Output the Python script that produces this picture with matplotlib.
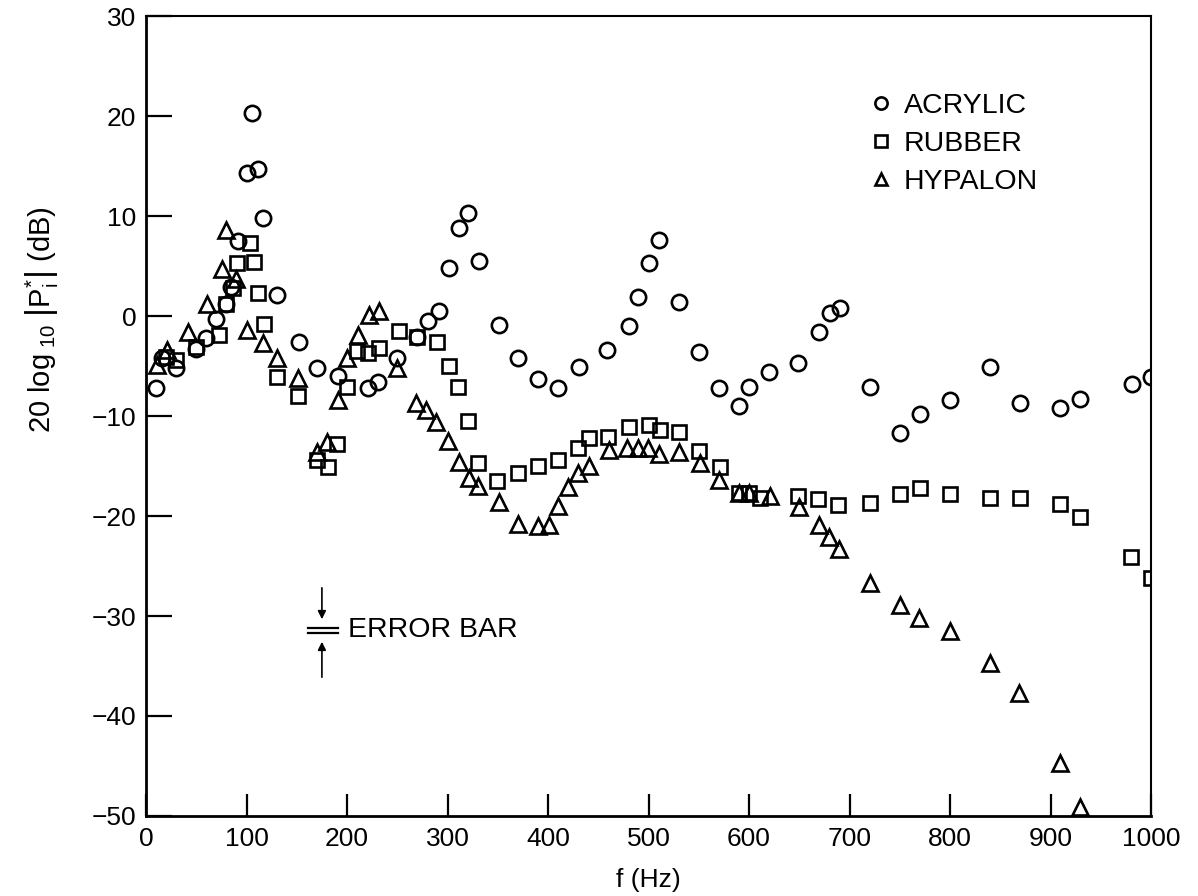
import matplotlib
matplotlib.use("Agg")
import matplotlib.pyplot as plt

plt.rcParams['font.family'] = ['Liberation Sans', 'DejaVu Sans']
plt.rcParams['mathtext.fontset'] = 'custom'
plt.rcParams['mathtext.rm'] = 'Liberation Sans'
plt.rcParams['mathtext.it'] = 'Liberation Sans:italic'

# acrylic (circles)
acrylic_f = [10, 16, 30, 50, 60, 70, 80, 85, 92, 100, 105, 111, 116, 130, 152, 170,
             191, 221, 231, 250, 270, 281, 292, 301, 311, 320, 331, 351, 370, 390,
             410, 431, 459, 481, 490, 500, 510, 530, 550, 570, 590, 600, 620, 649,
             670, 681, 691, 720, 750, 770, 800, 840, 870, 909, 929, 981, 1000]
acrylic_db = [-7.2, -4.2, -5.2, -3.3, -2.2, -0.3, 1.2, 2.9, 7.5, 14.3, 20.3, 14.7, 9.8, 2.1, -2.6, -5.2,
              -6.0, -7.2, -6.6, -4.2, -2.1, -0.5, 0.5, 4.8, 8.8, 10.3, 5.5, -0.9, -4.2, -6.3,
              -7.2, -5.1, -3.4, -1.0, 1.9, 5.3, 7.6, 1.4, -3.6, -7.2, -9.0, -7.1, -5.6, -4.7,
              -1.6, 0.3, 0.8, -7.1, -11.7, -9.8, -8.4, -5.1, -8.7, -9.2, -8.3, -6.8, -6.1]

# rubber (squares)
rubber_f = [20, 30, 50, 73, 80, 87, 91, 103, 107, 111, 117, 130, 151, 170, 181, 190,
            200, 210, 221, 232, 252, 270, 290, 301, 310, 320, 330, 349, 370, 390, 410,
            430, 441, 460, 481, 500, 511, 530, 550, 571, 590, 600, 611, 649, 669, 689,
            720, 750, 770, 800, 840, 870, 909, 929, 980, 1000]
rubber_db = [-4.1, -4.4, -3.1, -1.9, 1.2, 2.8, 5.3, 7.3, 5.4, 2.3, -0.8, -6.1, -8.0, -14.4, -15.1, -12.8,
             -7.1, -3.5, -3.7, -3.2, -1.5, -2.1, -2.6, -5.0, -7.1, -10.5, -14.7, -16.5, -15.7, -15.0, -14.4,
             -13.2, -12.2, -12.1, -11.1, -10.9, -11.4, -11.6, -13.5, -15.1, -17.7, -17.7, -18.2, -18.0, -18.3, -18.9,
             -18.7, -17.8, -17.2, -17.8, -18.2, -18.2, -18.8, -20.1, -24.1, -26.2]

# hypalon (triangles)
hypalon_f = [11, 21, 42, 61, 76, 80, 90, 100, 116, 130, 151, 170, 180, 191, 200, 211,
             222, 232, 250, 269, 279, 289, 300, 311, 321, 330, 351, 370, 390, 401, 410,
             420, 430, 441, 461, 479, 490, 499, 510, 530, 551, 570, 590, 600, 621, 650,
             670, 680, 690, 720, 750, 769, 800, 840, 869, 909, 929]
hypalon_db = [-4.9, -3.4, -1.6, 1.2, 4.7, 8.6, 3.7, -1.4, -2.7, -4.2, -6.2, -13.6, -12.6, -8.4, -4.2, -1.9,
              0.1, 0.5, -5.2, -8.7, -9.4, -10.6, -12.5, -14.6, -16.2, -17.0, -18.6, -20.8, -21.0, -20.9, -19.0,
              -17.1, -15.7, -15.0, -13.4, -13.2, -13.2, -13.2, -13.8, -13.6, -14.7, -16.4, -17.7, -17.7, -18.0, -19.1,
              -20.9, -22.1, -23.3, -26.7, -28.9, -30.2, -31.5, -34.7, -37.7, -44.7, -49.1]

x_ticks = [0, 100, 200, 300, 400, 500, 600, 700, 800, 900, 1000]
y_ticks = [-50, -40, -30, -20, -10, 0, 10, 20, 30]

fig = plt.figure(figsize=(11.98, 8.96), dpi=100)
ax = fig.add_axes([0.1219, 0.0893, 0.8389, 0.8928])

mk = dict(linestyle='none', markerfacecolor='none', markeredgecolor='black', markeredgewidth=1.9)
ax.plot(acrylic_f, acrylic_db, marker='o', markersize=11, label='ACRYLIC', **mk)
ax.plot(rubber_f, rubber_db, marker='s', markersize=10, label='RUBBER', **mk)
ax.plot(hypalon_f, hypalon_db, marker='^', markersize=11, label='HYPALON', **mk)

ax.set_xlim(0, 1000)
ax.set_ylim(-50, 30)
ax.set_xticks(x_ticks)
ax.set_xticklabels([str(t) for t in x_ticks])
ax.set_yticks(y_ticks)
ax.set_yticklabels([('\u2212' + str(-t)) if t < 0 else str(t) for t in y_ticks])

ax.tick_params(axis='y', direction='in', length=19, width=1.6, labelsize=19, pad=7)
ax.tick_params(axis='x', direction='in', length=16, width=1.6, labelsize=19, pad=8)
for s in ax.spines.values():
    s.set_linewidth(1.5)
ax.spines['left'].set_linewidth(2)
ax.spines['bottom'].set_linewidth(2)

ax.set_xlabel('f (Hz)', fontsize=19)
ax.xaxis.set_label_coords(0.5, -0.065)
ax.set_ylabel(r'20 log$_{\ 10}\ \left|\mathrm{P}_{\mathrm{i}}^{*}\right|$ (dB)', fontsize=21)
ax.yaxis.set_label_coords(-0.085, 0.62)

ax.legend(loc='upper left', bbox_to_anchor=(0.703, 0.922), frameon=False, fontsize=20.5,
          markerscale=0.8, handlelength=1.0, handletextpad=0.3, labelspacing=0.42, borderpad=0)

# error bar sketch
eb_f = 175
ax.annotate('', xy=(eb_f, -30.6), xytext=(eb_f, -26.9),
            arrowprops=dict(arrowstyle='-|>', color='black', lw=1.2, mutation_scale=12))
ax.annotate('', xy=(eb_f, -32.3), xytext=(eb_f, -36.4),
            arrowprops=dict(arrowstyle='-|>', color='black', lw=1.2, mutation_scale=12))
ax.plot([161, 191], [-31.2, -31.2], color='black', lw=1.6)
ax.plot([161, 191], [-31.7, -31.7], color='black', lw=1.6)
ax.text(201, -31.45, 'ERROR BAR', fontsize=20.5, va='center', ha='left')

fig.savefig('out.png', dpi=100)
